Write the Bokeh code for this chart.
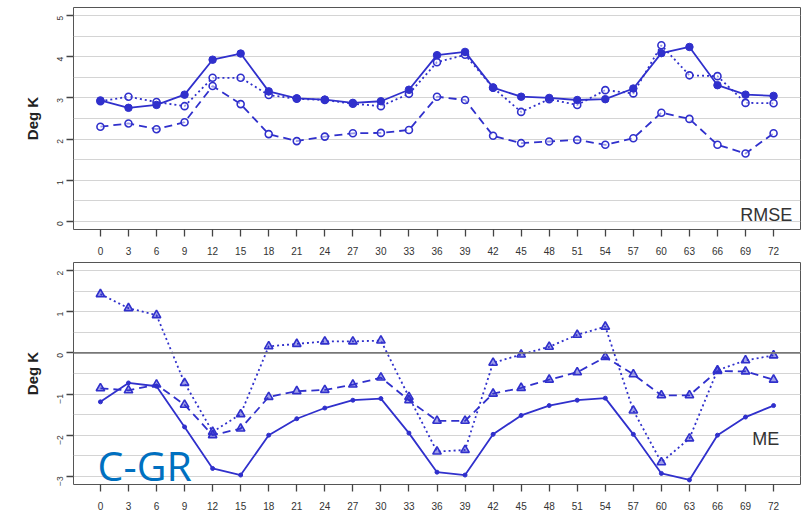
import math
from bokeh.plotting import figure
from bokeh.layouts import column
from bokeh.models import FixedTicker, Label, Span, Range1d
from bokeh.embed import file_html
from bokeh.resources import INLINE

hours = [0, 3, 6, 9, 12, 15, 18, 21, 24, 27, 30, 33, 36, 39, 42, 45, 48, 51, 54, 57, 60, 63, 66, 69, 72]

rmse_solid = [2.94, 2.76, 2.83, 3.08, 3.93, 4.08, 3.16, 2.99, 2.96, 2.88, 2.92, 3.20, 4.04, 4.12, 3.25, 3.03, 3.00, 2.95, 2.97, 3.23, 4.09, 4.24, 3.31, 3.08, 3.05]
rmse_dotted = [2.92, 3.03, 2.90, 2.80, 3.49, 3.49, 3.07, 2.98, 2.95, 2.86, 2.80, 3.10, 3.87, 4.05, 3.25, 2.66, 2.97, 2.83, 3.19, 3.11, 4.28, 3.55, 3.53, 2.88, 2.87]
rmse_dashed = [2.30, 2.38, 2.24, 2.41, 3.29, 2.85, 2.12, 1.95, 2.06, 2.14, 2.15, 2.22, 3.03, 2.95, 2.08, 1.90, 1.94, 1.98, 1.86, 2.02, 2.64, 2.49, 1.86, 1.65, 2.14]

me_solid = [-1.19, -0.73, -0.81, -1.80, -2.81, -2.97, -2.00, -1.60, -1.34, -1.15, -1.11, -1.95, -2.90, -2.97, -1.98, -1.52, -1.28, -1.15, -1.10, -1.98, -2.93, -3.09, -2.00, -1.56, -1.28]
me_dotted = [1.43, 1.09, 0.92, -0.73, -1.92, -1.49, 0.16, 0.22, 0.28, 0.28, 0.30, -1.07, -2.40, -2.36, -0.24, -0.04, 0.15, 0.44, 0.64, -1.40, -2.66, -2.08, -0.42, -0.18, -0.06]
me_dashed = [-0.86, -0.91, -0.77, -1.26, -2.00, -1.84, -1.07, -0.93, -0.90, -0.77, -0.60, -1.15, -1.65, -1.65, -0.99, -0.85, -0.65, -0.47, -0.10, -0.52, -1.03, -1.03, -0.44, -0.45, -0.65]

rmse_yticks = [0, 1, 2, 3, 4, 5]
me_yticks = [-3, -2, -1, 0, 1, 2]

BLUE = "#3030cc"
FONT = "Liberation Sans"


def style(p, yticks, grid_lo, grid_hi):
    p.outline_line_color = "#555555"
    p.outline_line_width = 1
    p.xgrid.visible = False
    p.ygrid.ticker = FixedTicker(ticks=[grid_lo + 0.5 * i for i in range(int((grid_hi - grid_lo) * 2) + 1)])
    p.ygrid.grid_line_color = "#d4d4d4"
    p.ygrid.grid_line_width = 1
    for ax in (p.xaxis[0], p.yaxis[0]):
        ax.axis_line_color = None
        ax.major_tick_in = 0
        ax.major_tick_out = 7
        ax.major_tick_line_color = "#444444"
        ax.major_tick_line_width = 1.3
        ax.minor_tick_line_color = None
        ax.major_label_text_color = "#333333"
        ax.major_label_text_font = FONT
    p.xaxis.ticker = FixedTicker(ticks=hours)
    p.xaxis.major_label_text_font_size = "10px"
    p.xaxis.major_label_standoff = 10
    p.yaxis.ticker = FixedTicker(ticks=yticks)
    p.yaxis.major_label_orientation = math.pi / 2
    p.yaxis.major_label_text_font_size = "8.5px"
    p.yaxis.major_label_standoff = 6
    p.yaxis.axis_label = "Deg K"
    p.yaxis.axis_label_text_font = FONT
    p.yaxis.axis_label_text_font_style = "bold"
    p.yaxis.axis_label_text_font_size = "15px"
    p.yaxis.axis_label_text_color = "#222222"
    p.yaxis.axis_label_standoff = 11


p1 = figure(width=806, height=260, x_range=Range1d(-2.88, 74.88), y_range=Range1d(-0.2, 5.2),
            output_backend="svg", toolbar_location=None,
            min_border_left=73, min_border_right=6, min_border_top=7, min_border_bottom=31)
style(p1, rmse_yticks, 0, 5)

p1.line(hours, rmse_dashed, line_color=BLUE, line_width=1.8, line_dash="8 5")
p1.scatter(hours, rmse_dashed, marker="circle", size=7, line_color=BLUE, line_width=1.6, fill_color="white", fill_alpha=0.5)
p1.line(hours, rmse_dotted, line_color=BLUE, line_width=1.8, line_dash="2 3")
p1.scatter(hours, rmse_dotted, marker="circle", size=7, line_color=BLUE, line_width=1.6, fill_color="white", fill_alpha=0.5)
p1.line(hours, rmse_solid, line_color=BLUE, line_width=1.8)
p1.scatter(hours, rmse_solid, marker="circle", size=7.5, line_color=BLUE, fill_color=BLUE)

p1.add_layout(Label(x=74.0, y=-0.1, text="RMSE", text_align="right", text_baseline="bottom",
                    text_font=FONT, text_font_size="18px", text_color="#333333"))

p2 = figure(width=806, height=256, x_range=Range1d(-2.88, 74.88), y_range=Range1d(-3.2, 2.2),
            output_backend="svg", toolbar_location=None,
            min_border_left=73, min_border_right=6, min_border_top=2, min_border_bottom=32)
style(p2, me_yticks, -3, 2)
p2.add_layout(Span(location=0, dimension="width", line_color="#777777", line_width=1.8))

p2.line(hours, me_dashed, line_color=BLUE, line_width=1.8, line_dash="8 5")
p2.scatter(hours, me_dashed, marker="triangle", size=8.5, line_color=BLUE, line_width=1.6, fill_color=BLUE, fill_alpha=0.45)
p2.line(hours, me_dotted, line_color=BLUE, line_width=1.8, line_dash="2 3")
p2.scatter(hours, me_dotted, marker="triangle", size=8.5, line_color=BLUE, line_width=1.6, fill_color=BLUE, fill_alpha=0.45)
p2.line(hours, me_solid, line_color=BLUE, line_width=1.8)
p2.scatter(hours, me_solid, marker="circle", size=4, line_color=BLUE, fill_color=BLUE)

p2.add_layout(Label(x=72.6, y=-2.1, text="ME", text_align="right", text_baseline="alphabetic",
                    text_font=FONT, text_font_size="18px", text_color="#333333"))
p2.add_layout(Label(x=-0.3, y=-2.73, text="C-GR", text_align="left", text_baseline="alphabetic",
                    text_font="Open Sans", text_font_size="41px", text_color="#0070c0"))

strip = figure(width=697, height=3, output_backend="svg", toolbar_location=None,
               min_border=0, x_axis_type=None, y_axis_type=None)
strip.outline_line_color = None
strip.background_fill_color = "#c5daf0"
strip.border_fill_color = "#c5daf0"
strip.xgrid.visible = False
strip.ygrid.visible = False
strip.scatter([0], [0], size=0, alpha=0)

layout = column(p1, p2, strip, spacing=0)
open("out.html", "w").write(file_html(layout, INLINE))
